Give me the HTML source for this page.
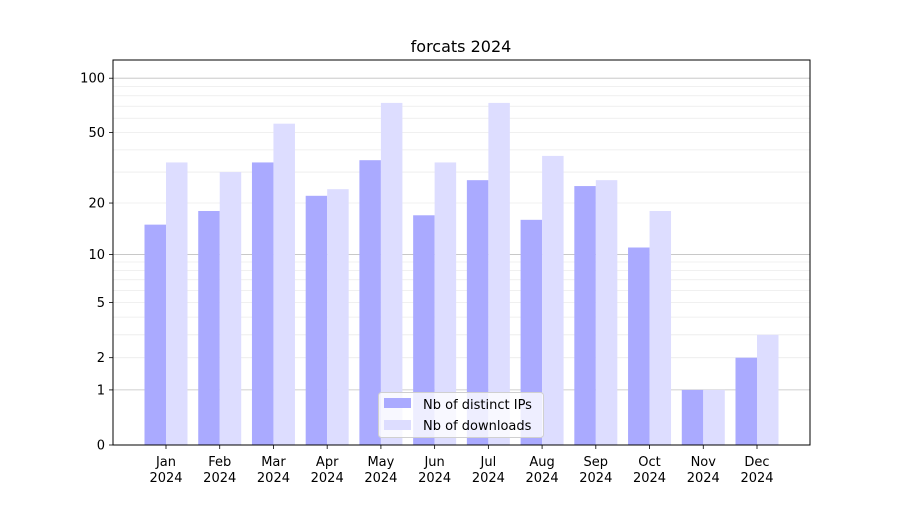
<!DOCTYPE html><html><head><meta charset="utf-8"><style>body{margin:0;background:#fff}svg{font-family:"DejaVu Sans","Liberation Sans",sans-serif}</style></head><body>
<svg id="s" width="900" height="500" xmlns="http://www.w3.org/2000/svg"></svg>
<script>
const s=document.getElementById('s');let h='';
const Y=v=>445-183*Math.log10(1+v);
const L=113,R=810,T=60,B=445;
h+=`<rect width="900" height="500" fill="#fff"/>`;
h+=`<text x="461" y="52" font-size="16" text-anchor="middle" fill="#000">forcats 2024</text>`;
[2,3,4,5,6,7,8,9,20,30,40,50,60,70,80,90].forEach(v=>{h+=`<line x1="${L}" x2="${R}" y1="${Y(v)}" y2="${Y(v)}" stroke="#ebebeb" stroke-width="0.8"/>`});
[1,10,100].forEach(v=>{h+=`<line x1="${L}" x2="${R}" y1="${Y(v)}" y2="${Y(v)}" stroke="#c0c0c0" stroke-width="0.8"/>`});
const ip=[15,18,34,22,35,17,27,16,25,11,1,2],dl=[34,30,56,24,73,34,73,37,27,18,1,3];
const m=['Jan','Feb','Mar','Apr','May','Jun','Jul','Aug','Sep','Oct','Nov','Dec'];
const sp=(757-166)/11;
for(let i=0;i<12;i++){const c=166+i*sp;
h+=`<rect x="${c-21.5}" y="${Y(ip[i])}" width="21.5" height="${B-Y(ip[i])}" fill="#aaaaff"/>`;
h+=`<rect x="${c}" y="${Y(dl[i])}" width="21.5" height="${B-Y(dl[i])}" fill="#ddddff"/>`;
h+=`<line x1="${c}" x2="${c}" y1="${B}" y2="${B+4}" stroke="#000" stroke-width="0.8"/>`;
h+=`<text x="${c}" y="466" font-size="13" text-anchor="middle">${m[i]}</text><text x="${c}" y="482" font-size="13" text-anchor="middle">2024</text>`;}
[0,1,2,5,10,20,50,100].forEach(v=>{const y=Y(v);h+=`<line x1="${L-4}" x2="${L}" y1="${y}" y2="${y}" stroke="#000" stroke-width="0.8"/><text x="${L-8}" y="${y+4.5}" font-size="13" text-anchor="end">${v}</text>`});
h+=`<rect x="${L}" y="${T}" width="${R-L}" height="${B-T}" fill="none" stroke="#000" stroke-width="1"/>`;
h+=`<rect x="378.5" y="392.5" width="165" height="45" rx="3" fill="#fff" fill-opacity="0.8" stroke="#d0d0d0"/>`;
h+=`<rect x="384" y="398" width="27" height="10" fill="#aaaaff"/><text x="423" y="409" font-size="13">Nb of distinct IPs</text>`;
h+=`<rect x="384" y="420" width="27" height="10" fill="#ddddff"/><text x="423" y="430" font-size="13">Nb of downloads</text>`;
s.innerHTML=h;
</script></body></html>
